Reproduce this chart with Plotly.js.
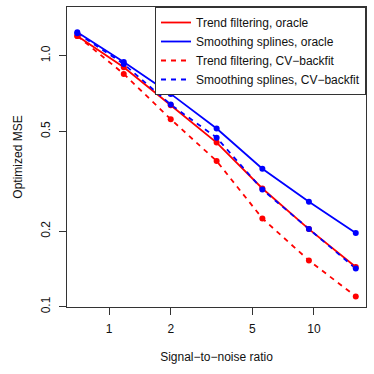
<!DOCTYPE html>
<html>
<head>
<meta charset="utf-8">
<script src="https://cdn.plot.ly/plotly-3.0.1.min.js"></script>
<style>
  html, body { margin: 0; padding: 0; background: #fff; }
  #chart { width: 374px; height: 374px; }
</style>
</head>
<body>
<div id="chart"></div>
<script>
// signal-to-noise ratios (x) and optimized MSE for each method
var snr = [0.7, 1.18, 2.0, 3.35, 5.6, 9.45, 16];
var tfOracle = [1.20, 0.90, 0.635, 0.451, 0.296, 0.204, 0.144];
var ssOracle = [1.24, 0.944, 0.705, 0.513, 0.355, 0.262, 0.197];
var tfCV = [1.20, 0.847, 0.559, 0.381, 0.225, 0.153, 0.110];
var ssCV = [1.23, 0.927, 0.639, 0.472, 0.293, 0.204, 0.142];

var seriesNames = ['Trend filtering, oracle', 'Smoothing splines, oracle',
                   'Trend filtering, CV\u2212backfit', 'Smoothing splines, CV\u2212backfit'];
var xTicks = [1, 2, 5, 10];
var xTickText = ['1', '2', '5', '10'];
var yTicks = [0.1, 0.2, 0.5, 1];
var yTickText = ['0.1', '0.2', '0.5', '1.0'];

var font = 'Liberation Sans, Arial, sans-serif';
var red = '#ff0000';
var blue = '#0000ff';

var series = [
  {y: tfOracle, color: red, dash: 'solid'},
  {y: ssOracle, color: blue, dash: 'solid'},
  {y: tfCV, color: red, dash: '5px,5px'},
  {y: ssCV, color: blue, dash: '5px,5px'}
];

var traces = [];
// lines go in the legend, points don't (legend shows plain lines)
for (let i = 0; i < series.length; i++) {
  traces.push({
    x: snr, y: series[i].y,
    mode: 'lines', name: seriesNames[i],
    line: {color: series[i].color, width: 1.8, dash: series[i].dash}
  });
}
for (let i = 0; i < series.length; i++) {
  traces.push({
    x: snr, y: series[i].y,
    mode: 'markers', showlegend: false, hoverinfo: 'skip',
    marker: {color: series[i].color, size: 6}
  });
}

var axisCommon = {
  type: 'log',
  showgrid: false, zeroline: false,
  showline: true, mirror: true, linecolor: '#333', linewidth: 1,
  ticks: 'outside', ticklen: 7, tickwidth: 1, tickcolor: '#333',
  tickfont: {family: font, size: 12, color: '#111'},
  ticklabelstandoff: 4
};

var layout = {
  width: 374, height: 374,
  margin: {l: 67, r: 8, t: 7, b: 67},
  paper_bgcolor: '#fff', plot_bgcolor: '#fff',
  font: {family: font, size: 12, color: '#111'},
  showlegend: true,
  legend: {
    x: 1, xanchor: 'right', y: 1, yanchor: 'top',
    bgcolor: '#fff', bordercolor: '#333', borderwidth: 1,
    font: {family: font, size: 12, color: '#111'}
  },
  xaxis: Object.assign({}, axisCommon, {
    range: [-0.2052, 1.254],
    tickmode: 'array', tickvals: xTicks, ticktext: xTickText,
    title: {text: 'Signal\u2212to\u2212noise ratio', font: {family: font, size: 12, color: '#111'}, standoff: 17}
  }),
  yaxis: Object.assign({}, axisCommon, {
    range: [-1.0008, 0.1944],
    tickmode: 'array', tickvals: yTicks, ticktext: yTickText,
    tickangle: -90,
    title: {text: 'Optimized MSE', font: {family: font, size: 12, color: '#111'}, standoff: 14}
  })
};

Plotly.newPlot('chart', traces, layout, {displayModeBar: false, staticPlot: true});
</script>
</body>
</html>
